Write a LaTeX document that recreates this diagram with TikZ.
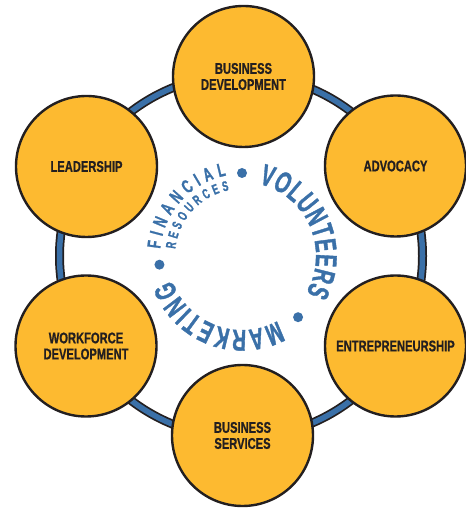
\documentclass[tikz,border=0pt]{standalone}
\usepackage{fontspec}
\usetikzlibrary{decorations.text}
\newfontfamily\boxfont{Liberation Sans}[FakeStretch=0.72,FakeBold=0.8]
\newfontfamily\arcfont{Liberation Sans}[FakeStretch=0.64,FakeBold=1.2]
\definecolor{disc}{RGB}{253,186,48}
\definecolor{ringblue}{RGB}{58,112,168}
\definecolor{outline}{RGB}{35,31,32}
\begin{document}
\begin{tikzpicture}[x=1pt,y=1pt,
  topic/.style={circle, draw=outline, line width=2.4pt, fill=disc,
    minimum size=141pt, inner sep=0pt, align=center, text=outline,
    font=\boxfont\bfseries\fontsize{15.5}{16}\selectfont},
  ringdot/.style={circle, fill=ringblue, minimum size=10pt, inner sep=0pt}]
\useasboundingbox (0,0) rectangle (465,510);
\coordinate (O) at (241,254);
% ring
\draw[draw=outline, line width=9pt] (O) circle[radius=181.5pt];
\draw[draw=ringblue, line width=5.5pt] (O) circle[radius=181.5pt];
% topic discs
\node[topic] (bd) at (243.5,433.5) {BUSINESS\\DEVELOPMENT};
\node[topic] (adv) at (395.5,344) {ADVOCACY};
\node[topic] (ent) at (395.5,164) {ENTREPRENEURSHIP};
\node[topic] (bs) at (242.5,74.5) {BUSINESS\\SERVICES};
\node[topic] (wd) at (86,164) {WORKFORCE\\DEVELOPMENT};
\node[topic] (lead) at (86.5,343.5) {LEADERSHIP};
% inner curved words
\begin{scope}[shift={(242,254)}]
\path[decorate, decoration={text along path, text align=fit to path,
  text={|\arcfont\bfseries\fontsize{30}{30}\selectfont\color{ringblue}|VOLUNTEERS}}]
  (77:74pt) arc[start angle=77, end angle=-30, radius=74pt];
\path[decorate, decoration={text along path, text align=fit to path,
  text={|\arcfont\bfseries\fontsize{30}{30}\selectfont\color{ringblue}|MARKETING}}]
  (-61:74pt) arc[start angle=-61, end angle=-161, radius=74pt];
\path[decorate, decoration={text along path, text align=fit to path,
  text={|\arcfont\bfseries\fontsize{19}{19}\selectfont\color{ringblue}|FINANCIAL}}]
  (175:82pt) arc[start angle=175, end angle=101, radius=82pt];
\path[decorate, decoration={text along path, text align=fit to path,
  text={|\arcfont\bfseries\fontsize{14}{14}\selectfont\color{ringblue}|RESOURCES}}]
  (174:67pt) arc[start angle=174, end angle=101, radius=67pt];
\node[ringdot] (dot1) at (90:83pt) {};
\node[ringdot] (dot2) at (186:83pt) {};
\node[ringdot] (dot3) at (-47.5:83pt) {};
\end{scope}
\end{tikzpicture}
\end{document}
